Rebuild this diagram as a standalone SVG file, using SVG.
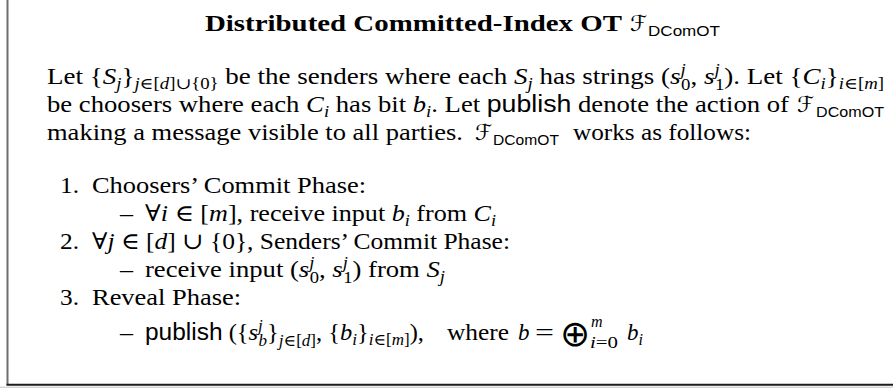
<svg xmlns="http://www.w3.org/2000/svg" width="893" height="388" viewBox="0 0 893 388">
<style>
text{fill:#000}
.t{font-family:"Liberation Serif","DejaVu Serif",serif;font-size:23px}
.ttl{font-family:"Liberation Serif","DejaVu Serif",serif;font-size:23px;font-weight:bold}
.i{font-style:italic}
.s{font-size:16px}
.sf{font-family:"Liberation Sans","DejaVu Sans",sans-serif}
.ss{font-family:"Liberation Sans","DejaVu Sans",sans-serif;font-size:15px}
.cal{font-family:"DejaVu Serif","DejaVu Sans",serif;font-size:22px;font-weight:normal}
.op{font-family:"DejaVu Sans",sans-serif;font-size:36px}
</style>
<rect x="0" y="0" width="893" height="388" fill="#fff"/>
<g id="frame">
<line x1="7.5" y1="0" x2="7.5" y2="385" stroke="#6e6e6e" stroke-width="2"/>
<line x1="6.5" y1="384.7" x2="893" y2="384.7" stroke="#1c1c1c" stroke-width="2"/>
<rect x="0" y="386.5" width="893" height="1.5" fill="#d6d6d6"/>
</g>
<g id="title">
<text class="ttl" x="205" y="31" textLength="417" lengthAdjust="spacingAndGlyphs">Distributed Committed-Index OT</text>
<text class="cal" x="630" y="31">ℱ</text>
<text class="ss" x="648" y="36" textLength="72" lengthAdjust="spacingAndGlyphs">DComOT</text>
</g>
<g id="intro">
<text class="t" x="47" y="84" textLength="837" lengthAdjust="spacingAndGlyphs">Let {<tspan class="i">S</tspan><tspan class="s i" dy="5">j</tspan><tspan dy="-5">}</tspan><tspan class="s" dy="5"><tspan class="i">j</tspan>∈[<tspan class="i">d</tspan>]∪{0}</tspan><tspan dy="-5"> be the senders where each </tspan><tspan class="i">S</tspan><tspan class="s i" dy="5">j</tspan><tspan dy="-5"> has strings (</tspan><tspan class="i">s</tspan><tspan class="s i" dy="-9">j</tspan><tspan class="s" dx="-4" dy="15">0</tspan><tspan dy="-6">, </tspan><tspan class="i">s</tspan><tspan class="s i" dy="-9">j</tspan><tspan class="s" dx="-4" dy="15">1</tspan><tspan dy="-6">). Let {</tspan><tspan class="i">C</tspan><tspan class="s i" dy="5">i</tspan><tspan dy="-5">}</tspan><tspan class="s" dy="5"><tspan class="i">i</tspan>∈[<tspan class="i">m</tspan>]</tspan></text>
<text class="t" x="47" y="112" textLength="742" lengthAdjust="spacingAndGlyphs">be choosers where each <tspan class="i">C</tspan><tspan class="s i" dy="5">i</tspan><tspan dy="-5"> has bit </tspan><tspan class="i">b</tspan><tspan class="s i" dy="5">i</tspan><tspan dy="-5">. Let </tspan><tspan class="sf">publish</tspan> denote the action of</text>
<text class="cal" x="797" y="112">ℱ</text>
<text class="ss" x="816" y="117" textLength="68" lengthAdjust="spacingAndGlyphs">DComOT</text>
<text class="t" x="47" y="140" textLength="416" lengthAdjust="spacingAndGlyphs">making a message visible to all parties.</text>
<text class="cal" x="475" y="140">ℱ</text>
<text class="ss" x="493" y="145" textLength="66" lengthAdjust="spacingAndGlyphs">DComOT</text>
<text class="t" x="573" y="140" textLength="178" lengthAdjust="spacingAndGlyphs">works as follows:</text>
</g>
<g id="item1">
<text class="t" x="60" y="193" textLength="19" lengthAdjust="spacingAndGlyphs">1.</text>
<text class="t" x="92" y="193" textLength="274" lengthAdjust="spacingAndGlyphs">Choosers’ Commit Phase:</text>
<text class="t" x="120" y="221" textLength="13" lengthAdjust="spacingAndGlyphs">–</text>
<text class="t" x="145" y="221" textLength="351" lengthAdjust="spacingAndGlyphs">∀<tspan class="i">i</tspan> ∈ [<tspan class="i">m</tspan>], receive input <tspan class="i">b</tspan><tspan class="s i" dy="5">i</tspan><tspan dy="-5"> from </tspan><tspan class="i">C</tspan><tspan class="s i" dy="5">i</tspan></text>
</g>
<g id="item2">
<text class="t" x="60" y="249" textLength="19" lengthAdjust="spacingAndGlyphs">2.</text>
<text class="t" x="92" y="249" textLength="418" lengthAdjust="spacingAndGlyphs">∀<tspan class="i">j</tspan> ∈ [<tspan class="i">d</tspan>] ∪ {0}, Senders’ Commit Phase:</text>
<text class="t" x="120" y="277" textLength="13" lengthAdjust="spacingAndGlyphs">–</text>
<text class="t" x="145" y="277" textLength="300" lengthAdjust="spacingAndGlyphs">receive input (<tspan class="i">s</tspan><tspan class="s i" dy="-9">j</tspan><tspan class="s" dx="-4" dy="15">0</tspan><tspan dy="-6">, </tspan><tspan class="i">s</tspan><tspan class="s i" dy="-9">j</tspan><tspan class="s" dx="-4" dy="15">1</tspan><tspan dy="-6">) from </tspan><tspan class="i">S</tspan><tspan class="s i" dy="5">j</tspan></text>
</g>
<g id="item3">
<text class="t" x="60" y="305" textLength="19" lengthAdjust="spacingAndGlyphs">3.</text>
<text class="t" x="92" y="305" textLength="149" lengthAdjust="spacingAndGlyphs">Reveal Phase:</text>
<text class="t" x="120" y="340" textLength="13" lengthAdjust="spacingAndGlyphs">–</text>
<text class="t" x="145" y="340" textLength="279" lengthAdjust="spacingAndGlyphs"><tspan class="sf">publish</tspan> ({<tspan class="i">s</tspan><tspan class="s i" dy="-9">j</tspan><tspan class="s i" dx="-4" dy="15">b</tspan><tspan dy="-6">}</tspan><tspan class="s" dy="6"><tspan class="i">j</tspan>∈[<tspan class="i">d</tspan>]</tspan><tspan dy="-6">, {</tspan><tspan class="i">b</tspan><tspan class="s i" dy="5">i</tspan><tspan dy="-5">}</tspan><tspan class="s" dy="5"><tspan class="i">i</tspan>∈[<tspan class="i">m</tspan>]</tspan><tspan dy="-5">),</tspan></text>
<text class="t" x="447" y="340" textLength="62" lengthAdjust="spacingAndGlyphs">where</text>
<text class="t i" x="518" y="340">b</text>
<text class="t" x="535" y="340" textLength="19" lengthAdjust="spacingAndGlyphs">=</text>
<text class="op" x="560" y="346">⊕</text>
<text class="s i t" x="591" y="327" style="font-size:16px">m</text>
<text class="t" x="590" y="348" style="font-size:16px" textLength="28" lengthAdjust="spacingAndGlyphs"><tspan class="i">i</tspan>=0</text>
<text class="t" x="627" y="340"><tspan class="i">b</tspan><tspan class="s i" dy="5">i</tspan></text>
</g>
</svg>
